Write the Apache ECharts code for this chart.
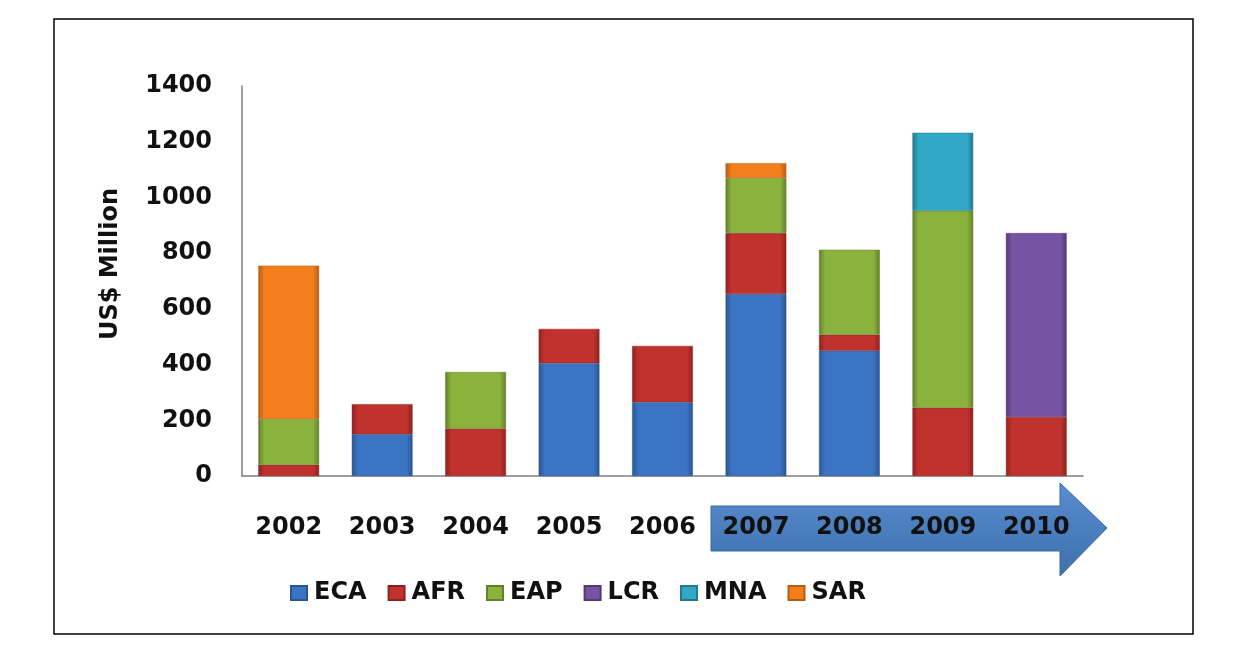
<!DOCTYPE html>
<html>
<head>
<meta charset="utf-8">
<script src="https://cdn.jsdelivr.net/npm/echarts@6/dist/echarts.min.js"></script>
<style>
html,body{margin:0;padding:0;background:#fff;}
#c{width:1239px;height:652px;}
</style>
</head>
<body>
<div id="c"></div>
<script>
const years = ['2002','2003','2004','2005','2006','2007','2008','2009','2010'];
const ECA = [null, 150, null, 405, 265, 653, 450, null, null];
const AFR = [40, 108, 170, 123, 202, 219, 57, 245, 212];
const EAP = [165, null, 203, null, null, 198, 305, 707, null];
const LCR = [null, null, null, null, null, null, null, null, 660];
const MNA = [null, null, null, null, null, null, null, 280, null];
const SAR = [550, null, null, null, null, 53, null, null, null];
const yTicks = [0, 200, 400, 600, 800, 1000, 1200, 1400];
const yTitle = 'US$ Million';

const names = ['ECA','AFR','EAP','LCR','MNA','SAR'];
const values = [ECA, AFR, EAP, LCR, MNA, SAR];
const colors = ['#3b74c2','#c0322e','#8ab23d','#7653a3','#32a8c6','#f27e1c'];
const dark = ['#2a5590','#8e2220','#637f2a','#523a75','#22788f','#b75d12'];

function grad(c, d){
  return new echarts.graphic.LinearGradient(0,0,1,0,[
    {offset:0,color:d},{offset:0.1,color:c},{offset:0.9,color:c},{offset:1,color:d}
  ]);
}

const chart = echarts.init(document.getElementById('c'));
const font = '"DejaVu Sans", sans-serif';
const txt = {fontSize:24, fontWeight:'bold', fontFamily:font, color:'#111'};

chart.setOption({
  animation:false,
  backgroundColor:'#fff',
  color: colors,
  grid:{left:242, right:156, top:86, bottom:176, containLabel:false},
  xAxis:{
    type:'category', data:years,
    axisLine:{show:true, lineStyle:{color:'#7f7f7f', width:1.5}},
    axisTick:{show:false},
    axisLabel:Object.assign({margin:40}, txt)
  },
  yAxis:{
    type:'value', min:0, max:1400, interval:200,
    axisLine:{show:true, lineStyle:{color:'#7f7f7f', width:1.5}},
    axisTick:{show:false},
    splitLine:{show:false},
    axisLabel:Object.assign({margin:30,
      formatter:function(v){ return yTicks.indexOf(v) >= 0 ? String(v) : ''; }}, txt)
  },
  legend:{
    data:names, left:285, top:576, itemWidth:16, itemHeight:14, itemGap:21,
    icon:'rect',
    textStyle:Object.assign({padding:[0,0,0,2]}, txt)
  },
  graphic:[
    {type:'rect', shape:{x:54, y:19, width:1139, height:615}, style:{fill:'none', stroke:'#000', lineWidth:1.5}, z:-20, silent:true},
    {type:'polygon', z:-10, silent:true,
      shape:{points:[[711,506],[1060,506],[1060,483],[1107,528],[1060,576],[1060,551],[711,551]]},
      style:{fill:new echarts.graphic.LinearGradient(0,0,0,1,[{offset:0,color:'#5b8dd0'},{offset:0.5,color:'#4a7ebd'},{offset:1,color:'#3f70ad'}]), stroke:'#3a6a9e', lineWidth:1}},
    {type:'text', x:111, y:264, rotation:Math.PI/2, silent:true,
      style:{text:yTitle, fontSize:24, fontWeight:'bold', fontFamily:font, fill:'#111', align:'center', verticalAlign:'middle'}}
  ],
  series: names.map(function(n,i){
    return {
      name:n, type:'bar', stack:'total', barWidth:'65%',
      data:values[i],
      itemStyle:{color:grad(colors[i], dark[i]), borderColor:dark[i], borderWidth:0.5},
      emphasis:{disabled:true}
    };
  })
});
</script>
</body>
</html>
